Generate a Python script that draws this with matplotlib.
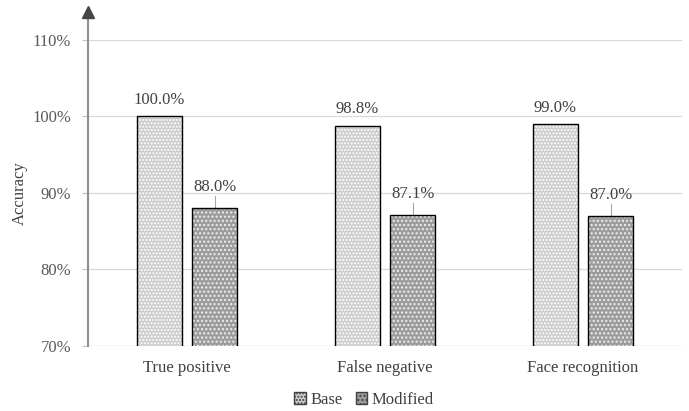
import numpy as np
import matplotlib.pyplot as plt
from matplotlib.patches import Patch

plt.rcParams['font.family'] = ['Liberation Serif', 'DejaVu Serif']

categories = ["True positive", "False negative", "Face recognition"]
base = [100.0, 98.8, 99.0]
modified = [88.0, 87.1, 87.0]
yticks = [70, 80, 90, 100, 110]

fig = plt.figure(figsize=(6.89, 4.11), dpi=100)
ax = fig.add_axes([88 / 689, 1 - 346 / 411, (682 - 88) / 689, (346 - 40) / 411])

x = np.arange(len(categories))
w = 0.23
off = 0.14

base_face = '#cdcdcd'
mod_face = '#9c9c9c'

# filled bars with white dot hatch, then black outline on top
ax.bar(x - off, base, w, color=base_face, hatch='.....',
       edgecolor='white', linewidth=0, zorder=2)
ax.bar(x + off, modified, w, color=mod_face, hatch='....',
       edgecolor='#eeeeee', linewidth=0, zorder=2)
ax.bar(x - off, base, w, fill=False, edgecolor='black', linewidth=1.0, zorder=3)
ax.bar(x + off, modified, w, fill=False, edgecolor='black', linewidth=1.0, zorder=3)

for i in range(len(categories)):
    ax.text(x[i] - off, base[i] + 1.1, f"{base[i]:.1f}%", ha='center', va='bottom',
            fontsize=12, color='#404040')
    ax.plot([x[i] + off, x[i] + off], [modified[i], modified[i] + 1.6],
            color='#a6a6a6', linewidth=0.8, zorder=1)
    ax.text(x[i] + off, modified[i] + 1.7, f"{modified[i]:.1f}%", ha='center', va='bottom',
            fontsize=12, color='#404040')

ax.set_xlim(-0.5, 2.5)
ax.set_ylim(70, 110)
ax.set_yticks(yticks)
ax.set_yticklabels([f"{t}%" for t in yticks], fontsize=12, color='#595959')
ax.set_xticks(x)
ax.set_xticklabels(categories, fontsize=12, color='#404040')
ax.tick_params(axis='y', length=4, color='#bfbfbf', pad=8)
ax.tick_params(axis='x', length=0, pad=10)
ax.yaxis.grid(True, color='#d9d9d9', linewidth=0.9, zorder=0)
ax.set_axisbelow(True)

for s in ['top', 'right', 'bottom', 'left']:
    ax.spines[s].set_visible(False)

# y axis with arrow head
ax.plot([0, 0], [0, 1.08], transform=ax.transAxes, color='#909090', linewidth=1.5,
        clip_on=False, zorder=4)
ax.plot([0], [1.09], transform=ax.transAxes, marker='^', markersize=9,
        color='#454545', clip_on=False, zorder=5)
ax.axhline(70, color='#d9d9d9', linewidth=0.9)

ax.set_ylabel('Accuracy', fontsize=12, color='#404040')
ax.yaxis.set_label_coords(-0.101, 0.5)

handles = [Patch(facecolor=base_face, hatch='.....', edgecolor='#404040', label='Base'),
           Patch(facecolor=mod_face, hatch='....', edgecolor='#404040', label='Modified')]
fig.legend(handles=handles, loc='center', bbox_to_anchor=(364 / 689, 1 - 400 / 411),
           ncol=2, frameon=False, fontsize=12, handlelength=0.7, handleheight=0.7,
           handletextpad=0.25, columnspacing=0.8, labelcolor='#404040',
           borderpad=0)

fig.savefig('out.png', dpi=100)
